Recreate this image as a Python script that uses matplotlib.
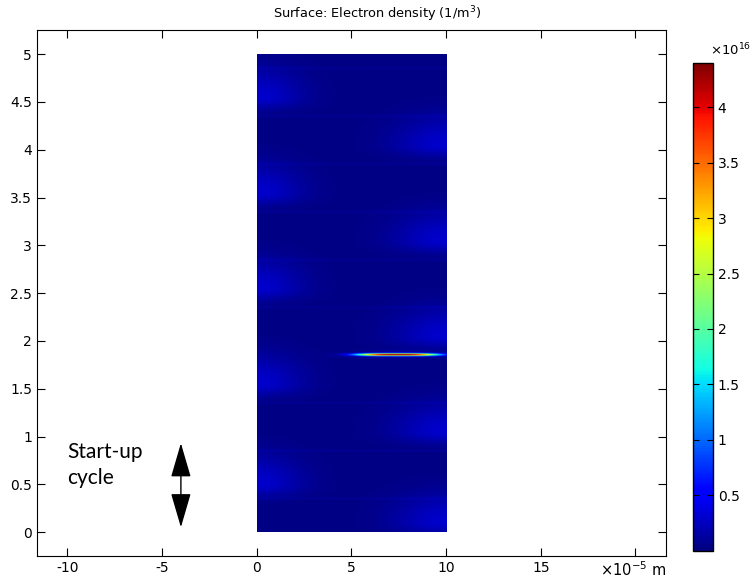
import numpy as np
import matplotlib
matplotlib.use("Agg")
import matplotlib.pyplot as plt

# values in units of 1e16 1/m^3, lengths in units of 1e-5 m
background_level = 0.02
left_blob_y = [0.50, 1.55, 2.55, 3.55, 4.55]
right_blob_y = [0.10, 1.05, 2.05, 3.05, 4.05]
blob_level = 0.28
band_y = [4.85, 4.35, 3.85, 3.35, 2.85, 2.35, 1.35, 0.85, 0.35]
band_level = 0.05
streak_y = 1.855
streak_x = 7.4
streak_peak = 4.4
color_max = 4.4

x_ticks = [-10, -5, 0, 5, 10, 15, 20]
x_labels = ["-10", "-5", "0", "5", "10", "15", ""]
y_ticks = [0, 0.5, 1, 1.5, 2, 2.5, 3, 3.5, 4, 4.5, 5]
cbar_ticks = [0.5, 1, 1.5, 2, 2.5, 3, 3.5, 4]


def blob(X, Y, x0, y0, sx):
    # softer on the upper side, sharper lower edge
    dy = Y - y0
    sy = np.where(dy > 0, 0.30, 0.12)
    return np.exp(-((X - x0) / sx) ** 2 - (dy / sy) ** 2)


def build_field():
    xs = np.linspace(0, 10, 400)
    ys = np.linspace(0, 5, 1500)
    X, Y = np.meshgrid(xs, ys)
    Z = np.full_like(X, background_level)
    for yb in left_blob_y:
        Z += blob_level * blob(X, Y, 0, yb, 2.4)
    for yb in right_blob_y:
        Z += blob_level * blob(X, Y, 10, yb, 2.8)
    for yb in band_y:
        Z += band_level * np.exp(-((Y - yb) / 0.015) ** 2)
    # thin streak
    env = np.exp(-(np.abs(X - streak_x) / 2.1) ** 3)
    Z += (streak_peak - background_level) * env * np.exp(-((Y - streak_y) / 0.013) ** 2)
    Z += 0.12 * np.exp(-((X - streak_x) / 2.4) ** 2) * np.exp(-((Y - streak_y) / 0.04) ** 2)
    return Z


fig = plt.figure(figsize=(7.54, 5.82), dpi=100)
ax = fig.add_axes([0.049, 0.0447, 0.834, 0.9033])
cax = fig.add_axes([0.919, 0.0538, 0.0265, 0.838])

im = ax.imshow(build_field(), extent=[0, 10, 0, 5], origin="lower", cmap="jet",
               vmin=0, vmax=color_max, aspect="auto", interpolation="bilinear")

ax.set_xlim(-11.6, 21.6)
ax.set_ylim(-0.25, 5.25)
ax.set_xticks(x_ticks)
ax.set_xticklabels(x_labels)
ax.set_yticks(y_ticks)
ax.set_yticklabels([f"{v:g}" for v in y_ticks])
ax.tick_params(direction="in", top=True, right=True, length=6, labelsize=10)
fig.text(0.5, 0.976, "Surface: Electron density (1/m$^3$)", fontsize=9.3,
         ha="center", va="center")
ax.text(19.85, -0.29, "×10$^{-5}$ m", fontsize=10.5, ha="center", va="top")

ax.text(-10.0, 0.70, "Start-up\ncycle", fontsize=15, ha="left", va="center",
        linespacing=1.35, family=["Lato", "DejaVu Sans"])
ax.annotate("", xy=(-4, 0.05), xytext=(-4, 0.93),
            arrowprops=dict(arrowstyle="<|-|>,head_length=1.2,head_width=0.35",
                            mutation_scale=18, color="black", lw=1,
                            shrinkA=0, shrinkB=0))

cb = fig.colorbar(im, cax=cax, ticks=cbar_ticks)
cb.ax.set_yticklabels([f"{v:g}" for v in cbar_ticks])
cb.ax.tick_params(direction="in", left=True, right=True, length=4, labelsize=10)
cb.outline.set_linewidth(1)
fig.text(0.969, 0.914, "×10$^{16}$", fontsize=9.5, ha="center", va="center")

fig.savefig("out.png", dpi=100)
